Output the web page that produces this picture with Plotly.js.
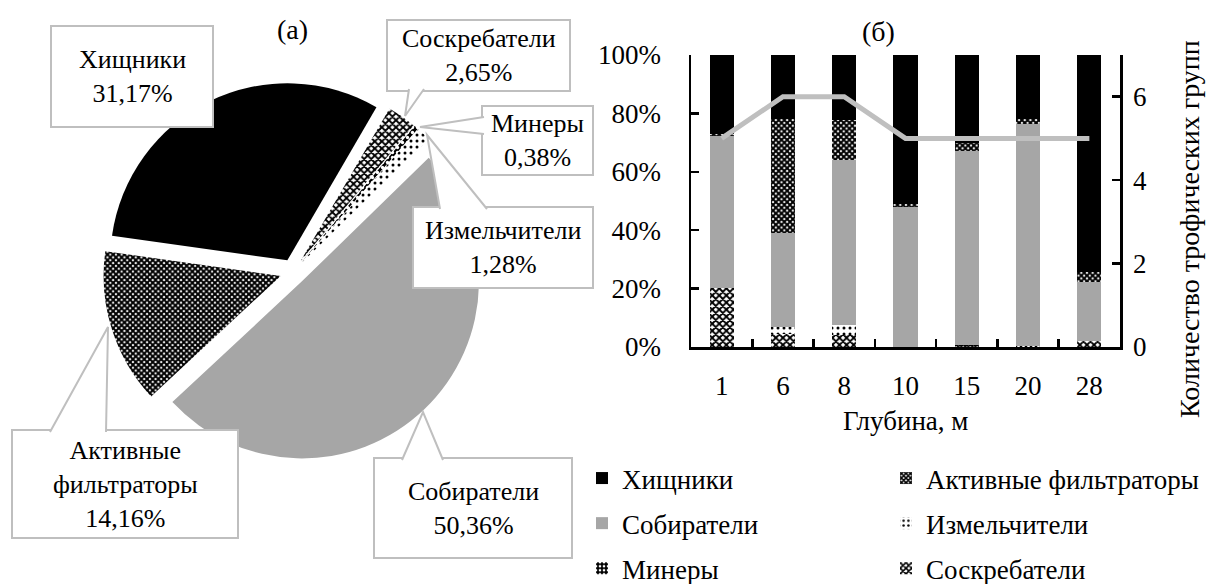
<!DOCTYPE html>
<html>
<head>
<meta charset="utf-8">
<script src="https://cdn.plot.ly/plotly-3.0.1.min.js"></script>
<style>
html,body{margin:0;padding:0;background:#ffffff;}
#chart{width:1207px;height:584px;}
</style>
</head>
<body>
<div id="chart"></div>
<script>
// ---------------- DATA ----------------
// (а) pie: share of trophic groups, %
const pieLabels = ['Хищники', 'Соскребатели', 'Минеры', 'Измельчители', 'Собиратели', 'Активные фильтраторы'];
const pieValues = [31.17, 2.65, 0.38, 1.28, 50.36, 14.16];

// (б) stacked bars by depth, %
const depths = ['1', '6', '8', '10', '15', '20', '28'];
const skrebateli   = [20.3, 4.3, 4.0, 0.0, 0.3, 0.0, 2.0];
const minery       = [0.0, 0.0, 0.0, 0.0, 0.3, 0.3, 0.0];
const izmelchiteli = [0.0, 2.5, 3.7, 0.0, 0.0, 0.0, 0.0];
const sobirateli   = [51.8, 32.3, 56.3, 48.0, 66.4, 76.1, 20.3];
const aktivnye     = [0.7, 38.9, 13.6, 0.9, 2.8, 1.8, 3.4];
const khishchniki  = [27.2, 22.0, 22.4, 51.1, 30.2, 21.8, 74.3];
// number of trophic groups (right axis)
const groupCount   = [5, 6, 6, 5, 5, 5, 5];

const yTicks  = [0, 20, 40, 60, 80, 100];
const y2Ticks = [0, 2, 4, 6];

// ---------------- STYLES ----------------
const W = 1207, H = 584;
const px = x => x / W;
const py = y => 1 - y / H;
const FONT = 'Liberation Serif, Times New Roman, serif';

const style = {
  'Хищники':              {color: '#000000', shape: '',  fg: '#000000', bg: '#000000', size: 8, sol: 0.3},
  'Активные фильтраторы': {color: '#000000', shape: 'x', fg: '#000000', bg: '#ffffff', size: 4, sol: 0.75},
  'Собиратели':           {color: '#a6a6a6', shape: '',  fg: '#a6a6a6', bg: '#a6a6a6', size: 8, sol: 0.3},
  'Измельчители':         {color: '#ffffff', shape: '.', fg: '#000000', bg: '#ffffff', size: 6, sol: 0.2},
  'Минеры':               {color: '#000000', shape: '.', fg: '#ffffff', bg: '#000000', size: 5, sol: 0.35},
  'Соскребатели':         {color: '#ffffff', shape: 'x', fg: '#000000', bg: '#ffffff', size: 5, sol: 0.62}
};
function barMarker(name) {
  const s = style[name];
  const m = {color: s.color, line: {width: 0}};
  if (s.shape) m.pattern = {shape: s.shape, fgcolor: s.fg, bgcolor: s.bg, size: s.size, solidity: s.sol, fillmode: 'replace'};
  return m;
}

// ---------------- TRACES ----------------
const pie = {
  type: 'pie',
  labels: pieLabels,
  values: pieValues,
  sort: false,
  direction: 'clockwise',
  rotation: -82,
  pull: pieLabels.map(() => 0.073),
  textinfo: 'none',
  hoverinfo: 'label+percent',
  showlegend: false,
  domain: {x: [px(103), px(483)], y: [py(462), py(82)]},
  marker: {
    colors: pieLabels.map(n => style[n].color),
    line: {width: 0},
    pattern: {
      shape: pieLabels.map(n => style[n].shape),
      fgcolor: pieLabels.map(n => style[n].fg),
      bgcolor: pieLabels.map(n => style[n].bg),
      size: pieLabels.map(n => style[n].size),
      solidity: pieLabels.map(n => style[n].sol)
    }
  }
};

// stacking order bottom -> top; [name, values, legend, rank in legend column]
const barSeries = [
  ['Соскребатели', skrebateli, 'legend2', 3],
  ['Минеры', minery, 'legend', 3],
  ['Измельчители', izmelchiteli, 'legend2', 2],
  ['Собиратели', sobirateli, 'legend', 2],
  ['Активные фильтраторы', aktivnye, 'legend2', 1],
  ['Хищники', khishchniki, 'legend', 1]
];
const bars = barSeries.map(([name, vals, lg, rank]) => ({
  type: 'bar', name: name, x: depths, y: vals,
  xaxis: 'x', yaxis: 'y', legend: lg, legendgroup: name, legendrank: rank,
  marker: barMarker(name), hoverinfo: 'name+y'
}));

const line = {
  type: 'scatter', mode: 'lines', x: depths, y: groupCount,
  xaxis: 'x', yaxis: 'y2', showlegend: false,
  line: {color: '#bfbfbf', width: 5}
};

// ---------------- LABEL LAYOUT (positions in px) ----------------
const callouts = [
  {box: [51, 26, 213, 127]},
  {box: [387, 20, 570, 91],  tip: [405, 116], base: [[409, 89], [424, 89]]},
  {box: [482, 106, 593, 175], tip: [420, 127], base: [[484, 117], [484, 134]]},
  {box: [413, 207, 593, 288], tip: [427, 135], base: [[440, 209], [487, 209]]},
  {box: [374, 458, 572, 558], tip: [423, 412], base: [[402, 460], [443, 460]]},
  {box: [12, 430, 238, 538],  tip: [108, 327], base: [[50, 432], [106, 432]]}
];

const shapes = [];
const annotations = [];
callouts.forEach((c, i) => {
  const b = c.box;
  shapes.push({type: 'rect', xref: 'paper', yref: 'paper', layer: 'above',
    x0: px(b[0]), x1: px(b[2]), y0: py(b[3]), y1: py(b[1]),
    line: {color: '#bfbfbf', width: 2}, fillcolor: '#ffffff'});
  if (c.tip) {
    shapes.push({type: 'path', xref: 'paper', yref: 'paper', layer: 'above',
      path: `M ${px(c.base[0][0])},${py(c.base[0][1])} L ${px(c.tip[0])},${py(c.tip[1])} L ${px(c.base[1][0])},${py(c.base[1][1])}`,
      line: {color: '#bfbfbf', width: 2}, fillcolor: '#ffffff'});
  }
  const txt = pieLabels[i].replace(' ', '<br>') + '<br>' + pieValues[i].toFixed(2).replace('.', ',') + '%';
  annotations.push({xref: 'paper', yref: 'paper', x: px((b[0] + b[2]) / 2), y: py((b[1] + b[3]) / 2),
    xanchor: 'center', yanchor: 'middle', showarrow: false, text: txt,
    font: {family: FONT, size: 26, color: '#000'}});
});
annotations.push({xref: 'paper', yref: 'paper', x: px(292), y: py(30), text: '(а)', showarrow: false,
  xanchor: 'center', yanchor: 'middle', font: {family: FONT, size: 28, color: '#000'}});
annotations.push({xref: 'paper', yref: 'paper', x: px(878), y: py(31), text: '(б)', showarrow: false,
  xanchor: 'center', yanchor: 'middle', font: {family: FONT, size: 28, color: '#000'}});
annotations.push({xref: 'paper', yref: 'paper', x: px(905), y: py(421), text: 'Глубина, м', showarrow: false,
  xanchor: 'center', yanchor: 'middle', font: {family: FONT, size: 27, color: '#000'}});
annotations.push({xref: 'paper', yref: 'paper', x: px(1190), y: py(229), text: 'Количество трофических групп',
  textangle: -90, showarrow: false, xanchor: 'center', yanchor: 'middle', font: {family: FONT, size: 28, color: '#000'}});

const axisCommon = {showline: true, linecolor: '#000', linewidth: 2.5, ticks: 'inside', ticklen: 8,
  tickwidth: 2.5, tickcolor: '#000', showgrid: false, zeroline: false, fixedrange: true, automargin: false,
  tickfont: {family: FONT, size: 27, color: '#000'}};

const legendCommon = {orientation: 'v', xanchor: 'left', yanchor: 'top', y: py(454),
  traceorder: 'grouped', tracegroupgap: 7, bgcolor: 'rgba(0,0,0,0)',
  font: {family: FONT, size: 27, color: '#000'}, itemwidth: 30};

const layout = {
  width: W, height: H,
  margin: {l: 0, r: 0, t: 0, b: 0, pad: 0, autoexpand: false},
  paper_bgcolor: '#ffffff', plot_bgcolor: 'rgba(0,0,0,0)',
  font: {family: FONT, size: 27, color: '#000'},
  barmode: 'stack', bargap: 0.605,
  xaxis: Object.assign({}, axisCommon, {domain: [px(691), px(1120)], anchor: 'y', type: 'category',
    tickson: 'boundaries', ticklabelstandoff: 13}),
  yaxis: Object.assign({}, axisCommon, {domain: [py(347), py(55)], anchor: 'x', range: [0, 100],
    tickmode: 'array', tickvals: yTicks, ticktext: yTicks.map(v => v + '%'), ticklabelstandoff: 22}),
  yaxis2: Object.assign({}, axisCommon, {overlaying: 'y', side: 'right', anchor: 'x', range: [0, 7],
    tickmode: 'array', tickvals: y2Ticks, ticktext: y2Ticks.map(String),
    ticklabelposition: 'outside', ticklabelstandoff: 5}),
  legend: Object.assign({}, legendCommon, {x: px(582)}),
  legend2: Object.assign({}, legendCommon, {x: px(886)}),
  shapes: shapes,
  annotations: annotations
};

Plotly.newPlot('chart', [pie].concat(bars).concat([line]), layout, {displayModeBar: false, staticPlot: true});
</script>
</body>
</html>
